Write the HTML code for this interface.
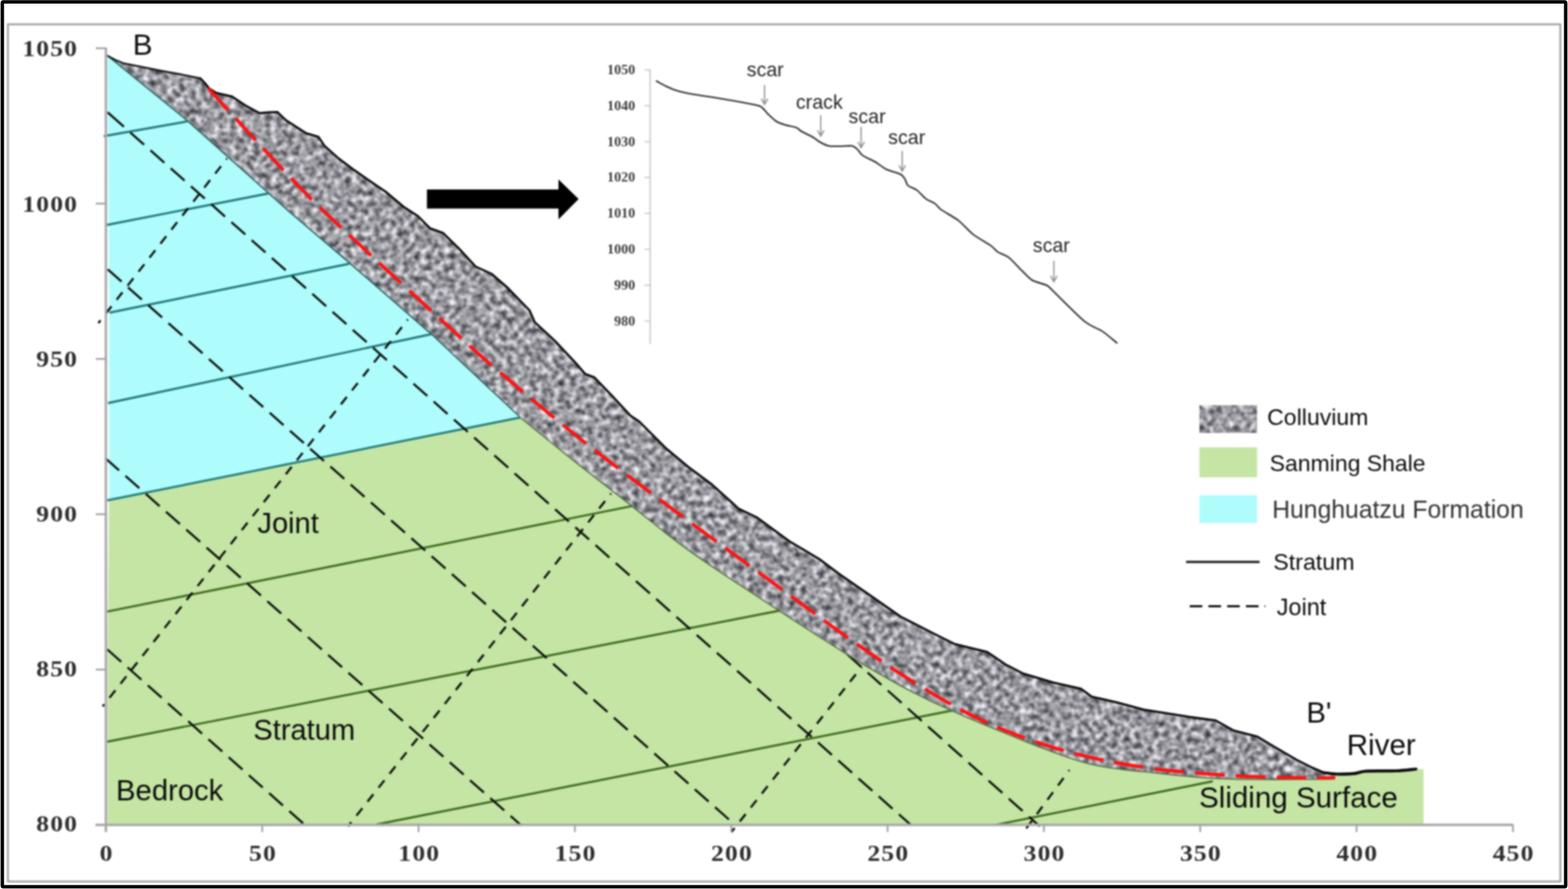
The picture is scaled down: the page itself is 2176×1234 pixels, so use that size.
<!DOCTYPE html>
<html lang="en"><head><meta charset="utf-8"><title>Cross section B-B'</title>
<style>
html,body{margin:0;padding:0;background:#fff;}
body{width:2176px;height:1234px;overflow:hidden;}
svg{display:block;}
.sans{font-family:"Liberation Sans",Arial,sans-serif;fill:#0c0c0c;}
.tick{font-family:"Liberation Serif","DejaVu Serif",serif;font-weight:bold;fill:#2e2e2e;font-size:31px;letter-spacing:1.35px;}
.itick{font-family:"Liberation Serif","DejaVu Serif",serif;font-weight:bold;fill:#3c3c3c;font-size:19.5px;}
.ann{font-family:"Liberation Sans",Arial,sans-serif;fill:#262626;font-size:27.2px;}
</style></head><body>
<svg width="2176" height="1234" viewBox="0 0 2176 1234" role="img" aria-label="Geological cross section B to B prime">
<defs>
<filter id="noise" filterUnits="userSpaceOnUse" x="140" y="60" width="1860" height="1040" color-interpolation-filters="sRGB">
<feTurbulence type="fractalNoise" baseFrequency="0.125" numOctaves="3" seed="7" result="t"/>
<feColorMatrix in="t" type="matrix" values="1.3 0 0 0 -0.045  1.3 0 0 0 -0.045  1.3 0 0 0 -0.02  0 0 0 0 1"/>
<feGaussianBlur stdDeviation="1.3"/>
</filter>
<filter id="soft2" filterUnits="userSpaceOnUse" x="0" y="0" width="2176" height="1234"><feGaussianBlur stdDeviation="0.4"/></filter>
<clipPath id="cc"><path d="M149.5,77.5 L160.0,83.0 L172.0,88.0 L200.0,93.5 L225.0,98.5 L250.0,103.0 L278.0,108.8 L284.0,115.0 L290.0,122.5 L300.0,129.0 L322.0,134.0 L340.0,146.0 L360.0,157.0 L372.0,156.0 L385.0,155.5 L397.0,167.0 L425.0,185.0 L442.0,190.0 L450.0,202.0 L470.0,220.0 L490.0,235.0 L510.0,249.0 L535.0,266.0 L560.0,287.0 L580.0,300.0 L597.0,317.0 L615.0,323.5 L637.0,345.0 L660.0,370.0 L682.0,380.0 L705.0,400.0 L735.0,431.0 L742.0,447.0 L770.0,473.0 L800.0,505.0 L812.0,519.0 L825.0,524.0 L850.0,550.0 L875.0,577.0 L887.0,585.0 L925.0,623.0 L955.0,648.0 L988.0,672.5 L1025.0,706.0 L1050.0,718.0 L1095.0,751.0 L1137.0,776.0 L1165.0,797.0 L1207.0,826.0 L1250.0,856.0 L1295.0,879.0 L1325.0,894.0 L1370.0,905.0 L1395.0,922.0 L1420.0,935.0 L1462.0,947.5 L1500.0,956.0 L1515.0,967.0 L1550.0,975.0 L1587.0,985.0 L1650.0,995.0 L1687.0,1000.0 L1712.0,1014.0 L1745.0,1022.5 L1770.0,1037.5 L1800.0,1055.0 L1822.0,1066.0 L1837.0,1072.5 L1855.0,1074.5 L1850.0,1081.5 L1836.0,1081.6 L1816.0,1081.8 L1793.0,1082.0 L1770.0,1082.1 L1750.0,1082.0 L1733.4,1081.8 L1718.2,1081.6 L1703.8,1081.3 L1689.6,1080.8 L1675.0,1080.0 L1659.6,1078.8 L1643.8,1077.3 L1628.2,1075.6 L1613.4,1074.0 L1600.0,1072.5 L1588.4,1071.3 L1578.2,1070.4 L1568.8,1069.4 L1559.6,1068.4 L1550.0,1067.0 L1540.4,1065.6 L1531.2,1064.1 L1521.8,1062.4 L1511.6,1060.2 L1500.0,1057.0 L1487.1,1053.0 L1473.2,1048.2 L1458.4,1042.8 L1442.3,1036.8 L1425.0,1030.0 L1405.4,1022.1 L1383.5,1013.1 L1360.9,1003.7 L1339.2,994.4 L1320.0,986.0 L1303.8,978.7 L1289.7,972.2 L1276.7,965.8 L1263.8,959.3 L1250.0,952.0 L1235.6,944.1 L1221.2,935.9 L1206.5,927.2 L1191.2,918.0 L1175.0,908.0 L1158.1,897.4 L1140.7,886.4 L1122.5,874.6 L1103.2,862.1 L1082.5,848.5 L1059.3,833.3 L1033.7,816.6 L1007.6,799.4 L982.4,782.5 L960.0,767.0 L940.9,753.0 L923.9,740.0 L908.2,727.5 L893.0,715.3 L877.5,703.0 L861.7,690.7 L846.2,678.7 L830.8,666.7 L815.5,654.7 L800.0,642.5 L783.2,629.1 L765.1,614.5 L747.6,600.3 L732.6,588.1 L722.0,579.5 L600.0,465.0 L485.0,365.0 L400.0,292.5 L260.0,167.5 L149.5,77.5Z"/></clipPath>
<clipPath id="sw"><rect x="1664.5" y="562.5" width="80" height="38.5"/></clipPath>
<filter id="soft" filterUnits="userSpaceOnUse" x="0" y="0" width="2176" height="1234" color-interpolation-filters="sRGB"><feGaussianBlur stdDeviation="1.0"/></filter>
</defs>
<rect x="0" y="0" width="2176" height="1234" fill="#ffffff"/>
<g id="figure" filter="url(#soft)">
<rect x="11" y="33.8" width="2154.4" height="1189.8" fill="none" stroke="#9c9c9c" stroke-width="2.5"/>
<g id="section">
<path d="M149.5,77.5 L260.0,167.5 L400.0,292.5 L485.0,365.0 L600.0,465.0 L722.0,579.5 L151.3,694.5 L151.3,400.0Z" fill="#affcfd"/>
<path d="M151.3,694.5 L722.0,579.5 L732.6,588.1 L747.6,600.3 L765.1,614.5 L783.2,629.1 L800.0,642.5 L815.5,654.7 L830.8,666.7 L846.2,678.7 L861.7,690.7 L877.5,703.0 L893.0,715.3 L908.2,727.5 L923.9,740.0 L940.9,753.0 L960.0,767.0 L982.4,782.5 L1007.6,799.4 L1033.7,816.6 L1059.3,833.3 L1082.5,848.5 L1103.2,862.1 L1122.5,874.6 L1140.7,886.4 L1158.1,897.4 L1175.0,908.0 L1191.2,918.0 L1206.5,927.2 L1221.2,935.9 L1235.6,944.1 L1250.0,952.0 L1263.8,959.3 L1276.7,965.8 L1289.7,972.2 L1303.8,978.7 L1320.0,986.0 L1339.2,994.4 L1360.9,1003.7 L1383.5,1013.1 L1405.4,1022.1 L1425.0,1030.0 L1442.3,1036.8 L1458.4,1042.8 L1473.2,1048.2 L1487.1,1053.0 L1500.0,1057.0 L1511.6,1060.2 L1521.8,1062.4 L1531.2,1064.1 L1540.4,1065.6 L1550.0,1067.0 L1559.6,1068.4 L1568.8,1069.4 L1578.2,1070.4 L1588.4,1071.3 L1600.0,1072.5 L1613.4,1074.0 L1628.2,1075.6 L1643.8,1077.3 L1659.6,1078.8 L1675.0,1080.0 L1689.6,1080.8 L1703.8,1081.3 L1718.2,1081.6 L1733.4,1081.8 L1750.0,1082.0 L1770.0,1082.1 L1793.0,1082.0 L1816.0,1081.8 L1836.0,1081.6 L1850.0,1081.5 L1855.0,1074.5 L1880.0,1073.7 L1895.0,1070.5 L1937.0,1070.0 L1965.0,1067.5 L1975.5,1067.5 L1975.5,1144.0 L149.3,1144.0 L149.3,900.0Z" fill="#c5e5a4"/>
<line x1="144.0" y1="189.0" x2="260.0" y2="168.5" stroke="#1f7676" stroke-width="2.9"/>
<line x1="147.0" y1="312.5" x2="372.5" y2="268.5" stroke="#1f7676" stroke-width="2.9"/>
<line x1="152.0" y1="434.0" x2="485.0" y2="366.0" stroke="#1f7676" stroke-width="2.9"/>
<line x1="150.0" y1="559.5" x2="598.0" y2="464.0" stroke="#1f7676" stroke-width="2.9"/>
<line x1="149.0" y1="694.5" x2="722.0" y2="579.5" stroke="#237c7a" stroke-width="3"/>
<line x1="149.0" y1="848.8" x2="877.5" y2="702.3" stroke="#3d6a1e" stroke-width="2.9"/>
<line x1="149.0" y1="1029.5" x2="1082.5" y2="847.5" stroke="#3d6a1e" stroke-width="2.9"/>
<line x1="522.0" y1="1144.5" x2="1322.5" y2="986.0" stroke="#3d6a1e" stroke-width="2.9"/>
<line x1="1383.5" y1="1144.7" x2="1683.0" y2="1084.5" stroke="#3d6a1e" stroke-width="2.9"/>
<line x1="152.7" y1="158.9" x2="1264.0" y2="1145.0" stroke="#0c100c" stroke-width="3.0" stroke-dasharray="25.7 11.83"/>
<line x1="149.5" y1="373.9" x2="1020.0" y2="1145.0" stroke="#0c100c" stroke-width="3.0" stroke-dasharray="25.7 11.83"/>
<line x1="146.0" y1="635.8" x2="722.5" y2="1145.0" stroke="#0c100c" stroke-width="3.0" stroke-dasharray="25.7 11.83"/>
<line x1="149.0" y1="901.5" x2="423.0" y2="1145.0" stroke="#0c100c" stroke-width="3.0" stroke-dasharray="25.7 11.83"/>
<line x1="1176.0" y1="908.5" x2="1443.0" y2="1147.0" stroke="#0c100c" stroke-width="3.0" stroke-dasharray="25.7 11.83"/>
<line x1="315.0" y1="220.0" x2="136.5" y2="448.5" stroke="#0c100c" stroke-width="3.0" stroke-dasharray="13.1 11.6" stroke-dashoffset="11.3"/>
<line x1="566.0" y1="443.5" x2="142.5" y2="980.5" stroke="#0c100c" stroke-width="3.0" stroke-dasharray="13.1 11.6" stroke-dashoffset="11.3"/>
<line x1="848.0" y1="685.0" x2="483.0" y2="1147.0" stroke="#0c100c" stroke-width="3.0" stroke-dasharray="13.1 11.6" stroke-dashoffset="11.3"/>
<line x1="1196.0" y1="925.5" x2="1015.0" y2="1155.0" stroke="#0c100c" stroke-width="3.0" stroke-dasharray="13.1 11.6" stroke-dashoffset="11.3"/>
<line x1="1484.0" y1="1069.0" x2="1419.0" y2="1157.0" stroke="#0c100c" stroke-width="3.0" stroke-dasharray="13.1 11.6" stroke-dashoffset="11.3"/>
<line x1="149.3" y1="155.9" x2="153.5" y2="159.6" stroke="#0c100c" stroke-width="3.0"/>
<g clip-path="url(#cc)"><rect x="140" y="60" width="1860" height="1040" fill="#999" filter="url(#noise)"/></g>
<path d="M149.5,77.5 L260.0,167.5 L400.0,292.5 L485.0,365.0 L600.0,465.0 L722.0,579.5" fill="none" stroke="#2c5c5c" stroke-width="1.7"/>
<path d="M722.0,579.5 L732.6,588.1 L747.6,600.3 L765.1,614.5 L783.2,629.1 L800.0,642.5 L815.5,654.7 L830.8,666.7 L846.2,678.7 L861.7,690.7 L877.5,703.0 L893.0,715.3 L908.2,727.5 L923.9,740.0 L940.9,753.0 L960.0,767.0 L982.4,782.5 L1007.6,799.4 L1033.7,816.6 L1059.3,833.3 L1082.5,848.5 L1103.2,862.1 L1122.5,874.6 L1140.7,886.4 L1158.1,897.4 L1175.0,908.0 L1191.2,918.0 L1206.5,927.2 L1221.2,935.9 L1235.6,944.1 L1250.0,952.0 L1263.8,959.3 L1276.7,965.8 L1289.7,972.2 L1303.8,978.7 L1320.0,986.0 L1339.2,994.4 L1360.9,1003.7 L1383.5,1013.1 L1405.4,1022.1 L1425.0,1030.0 L1442.3,1036.8 L1458.4,1042.8 L1473.2,1048.2 L1487.1,1053.0 L1500.0,1057.0 L1511.6,1060.2 L1521.8,1062.4 L1531.2,1064.1 L1540.4,1065.6 L1550.0,1067.0 L1559.6,1068.4 L1568.8,1069.4 L1578.2,1070.4 L1588.4,1071.3 L1600.0,1072.5 L1613.4,1074.0 L1628.2,1075.6 L1643.8,1077.3 L1659.6,1078.8 L1675.0,1080.0 L1689.6,1080.8 L1703.8,1081.3 L1718.2,1081.6 L1733.4,1081.8 L1750.0,1082.0 L1770.0,1082.1 L1793.0,1082.0 L1816.0,1081.8 L1836.0,1081.6 L1850.0,1081.5" fill="none" stroke="#4f6b45" stroke-width="1.6"/>
<path d="M149.5,77.5 L160.0,83.0 L172.0,88.0 L200.0,93.5 L225.0,98.5 L250.0,103.0 L278.0,108.8" fill="none" stroke="#101414" stroke-width="2.4" stroke-linejoin="round" stroke-linecap="round"/>
<path d="M278.0,108.8 L284.0,115.0 L290.0,122.5 L300.0,129.0 L322.0,134.0 L340.0,146.0 L360.0,157.0 L372.0,156.0 L385.0,155.5 L397.0,167.0 L425.0,185.0 L442.0,190.0 L450.0,202.0 L470.0,220.0 L490.0,235.0 L510.0,249.0 L535.0,266.0 L560.0,287.0 L580.0,300.0 L597.0,317.0 L615.0,323.5 L637.0,345.0 L660.0,370.0 L682.0,380.0 L705.0,400.0 L735.0,431.0 L742.0,447.0 L770.0,473.0 L800.0,505.0 L812.0,519.0 L825.0,524.0 L850.0,550.0 L875.0,577.0 L887.0,585.0 L925.0,623.0 L955.0,648.0 L988.0,672.5 L1025.0,706.0 L1050.0,718.0 L1095.0,751.0 L1137.0,776.0 L1165.0,797.0 L1207.0,826.0 L1250.0,856.0 L1295.0,879.0 L1325.0,894.0 L1370.0,905.0 L1395.0,922.0 L1420.0,935.0 L1462.0,947.5 L1500.0,956.0 L1515.0,967.0 L1550.0,975.0 L1587.0,985.0 L1650.0,995.0 L1687.0,1000.0 L1712.0,1014.0 L1745.0,1022.5 L1770.0,1037.5 L1800.0,1055.0 L1822.0,1066.0 L1837.0,1072.5 L1855.0,1074.5 L1880.0,1073.7 L1895.0,1070.5 L1937.0,1070.0 L1965.0,1067.5" fill="none" stroke="#0a0a0a" stroke-width="3.0" stroke-linejoin="round" stroke-linecap="round"/>
<path d="M1837.0,1072.5 C1840.0,1072.8 1847.8,1074.3 1855.0,1074.5 C1862.2,1074.7 1873.3,1074.4 1880.0,1073.7 C1886.7,1073.0 1885.5,1071.1 1895.0,1070.5 C1904.5,1069.9 1925.3,1070.5 1937.0,1070.0 C1948.7,1069.5 1960.3,1067.9 1965.0,1067.5" fill="none" stroke="#0a0a0a" stroke-width="4.2" stroke-linejoin="round" stroke-linecap="round"/>
<path d="M289.0,122.5 C298.3,132.8 325.8,163.2 345.0,184.0 C364.2,204.8 384.0,226.8 404.0,247.5 C424.0,268.2 430.8,275.8 465.0,308.0 C499.2,340.2 573.2,408.2 609.0,441.0 C644.8,473.8 648.2,477.7 680.0,505.0 C711.8,532.3 757.5,571.2 800.0,605.0 C842.5,638.8 885.0,670.7 935.0,708.0 C985.0,745.3 1060.0,799.7 1100.0,829.0 C1140.0,858.3 1147.5,864.7 1175.0,884.0 C1202.5,903.3 1233.3,925.5 1265.0,945.0 C1296.7,964.5 1330.8,985.2 1365.0,1001.0 C1399.2,1016.8 1434.2,1029.5 1470.0,1040.0 C1505.8,1050.5 1541.7,1058.0 1580.0,1064.0 C1618.3,1070.0 1663.3,1073.4 1700.0,1076.0 C1736.7,1078.6 1774.5,1078.9 1800.0,1079.5 C1825.5,1080.1 1844.2,1079.5 1853.0,1079.5" fill="none" stroke="#ff1212" stroke-width="4.7" stroke-dasharray="41.4 15.2"/>
</g>
<g id="axes" stroke="#a8a8ac" stroke-width="3.4" fill="none">
<line x1="147" y1="66" x2="147" y2="1155"/>
<line x1="132.5" y1="1145" x2="2100" y2="1145"/>
</g>
<g stroke="#a0a0a4" stroke-width="2.4">
<line x1="133" y1="67.0" x2="147" y2="67.0"/>
<line x1="133" y1="282.6" x2="147" y2="282.6"/>
<line x1="133" y1="498.2" x2="147" y2="498.2"/>
<line x1="133" y1="713.8" x2="147" y2="713.8"/>
<line x1="133" y1="929.4" x2="147" y2="929.4"/>
<line x1="363.9" y1="1145" x2="363.9" y2="1155"/>
<line x1="580.9" y1="1145" x2="580.9" y2="1155"/>
<line x1="797.8" y1="1145" x2="797.8" y2="1155"/>
<line x1="1014.8" y1="1145" x2="1014.8" y2="1155"/>
<line x1="1231.8" y1="1145" x2="1231.8" y2="1155"/>
<line x1="1448.7" y1="1145" x2="1448.7" y2="1155"/>
<line x1="1665.6" y1="1145" x2="1665.6" y2="1155"/>
<line x1="1882.6" y1="1145" x2="1882.6" y2="1155"/>
<line x1="2099.6" y1="1145" x2="2099.6" y2="1155"/>
</g>
<text class="tick" transform="translate(30.9,78.4) scale(1.150,1)">1050</text>
<text class="tick" transform="translate(30.9,293.6) scale(1.150,1)">1000</text>
<text class="tick" transform="translate(50.3,508.7) scale(1.150,1)">950</text>
<text class="tick" transform="translate(50.3,723.9) scale(1.150,1)">900</text>
<text class="tick" transform="translate(50.3,939.0) scale(1.150,1)">850</text>
<text class="tick" transform="translate(50.3,1154.2) scale(1.150,1)">800</text>
<text class="tick" transform="translate(138.3,1194.8) scale(1.150,1)">0</text>
<text class="tick" transform="translate(345.6,1194.8) scale(1.150,1)">50</text>
<text class="tick" transform="translate(552.8,1194.8) scale(1.150,1)">100</text>
<text class="tick" transform="translate(769.7,1194.8) scale(1.150,1)">150</text>
<text class="tick" transform="translate(986.7,1194.8) scale(1.150,1)">200</text>
<text class="tick" transform="translate(1203.7,1194.8) scale(1.150,1)">250</text>
<text class="tick" transform="translate(1420.6,1194.8) scale(1.150,1)">300</text>
<text class="tick" transform="translate(1637.5,1194.8) scale(1.150,1)">350</text>
<text class="tick" transform="translate(1854.5,1194.8) scale(1.150,1)">400</text>
<text class="tick" transform="translate(2071.5,1194.8) scale(1.150,1)">450</text>
<path d="M592.5,263 L775,263 L775,249 L803,276.3 L775,304.5 L775,289.5 L592.5,289.5 Z" fill="#000"/>
<g id="inset">
<line x1="902.3" y1="96.5" x2="902.3" y2="477.5" stroke="#c4c4c4" stroke-width="1.8"/>
<line x1="894.5" y1="97.0" x2="902.3" y2="97.0" stroke="#c4c4c4" stroke-width="1.6"/>
<text class="itick" text-anchor="end" x="881.5" y="103.0">1050</text>
<line x1="894.5" y1="146.8" x2="902.3" y2="146.8" stroke="#c4c4c4" stroke-width="1.6"/>
<text class="itick" text-anchor="end" x="881.5" y="152.8">1040</text>
<line x1="894.5" y1="196.6" x2="902.3" y2="196.6" stroke="#c4c4c4" stroke-width="1.6"/>
<text class="itick" text-anchor="end" x="881.5" y="202.6">1030</text>
<line x1="894.5" y1="246.4" x2="902.3" y2="246.4" stroke="#c4c4c4" stroke-width="1.6"/>
<text class="itick" text-anchor="end" x="881.5" y="252.4">1020</text>
<line x1="894.5" y1="296.2" x2="902.3" y2="296.2" stroke="#c4c4c4" stroke-width="1.6"/>
<text class="itick" text-anchor="end" x="881.5" y="302.2">1010</text>
<line x1="894.5" y1="346.0" x2="902.3" y2="346.0" stroke="#c4c4c4" stroke-width="1.6"/>
<text class="itick" text-anchor="end" x="881.5" y="352.0">1000</text>
<line x1="894.5" y1="395.8" x2="902.3" y2="395.8" stroke="#c4c4c4" stroke-width="1.6"/>
<text class="itick" text-anchor="end" x="881.5" y="401.8">990</text>
<line x1="894.5" y1="445.6" x2="902.3" y2="445.6" stroke="#c4c4c4" stroke-width="1.6"/>
<text class="itick" text-anchor="end" x="881.5" y="451.6">980</text>
<path d="M911.0,112.5 C912.9,113.5 921.1,118.2 925.0,120.0 C928.9,121.8 935.3,124.6 940.0,126.0 C944.7,127.4 952.7,129.2 960.0,130.5 C967.3,131.8 985.3,134.4 995.0,136.0 C1004.7,137.6 1024.5,141.0 1032.5,142.5 C1040.5,144.0 1050.7,145.5 1055.0,147.5 C1059.3,149.5 1062.0,154.7 1065.0,157.5 C1068.0,160.3 1074.2,166.4 1077.5,168.5 C1080.8,170.6 1086.3,172.4 1090.0,173.5 C1093.7,174.6 1102.0,175.8 1105.0,177.0 C1108.0,178.2 1109.5,180.8 1112.5,182.5 C1115.5,184.2 1124.2,188.1 1127.5,190.0 C1130.8,191.9 1134.5,195.3 1137.5,197.0 C1140.5,198.7 1146.3,201.7 1150.0,202.5 C1153.7,203.3 1160.7,203.0 1165.0,203.0 C1169.3,203.0 1179.2,201.9 1182.5,202.5 C1185.8,203.1 1188.0,205.7 1190.0,207.5 C1192.0,209.3 1194.2,213.7 1197.5,216.0 C1200.8,218.3 1210.7,222.5 1215.0,225.0 C1219.3,227.5 1225.3,232.7 1230.0,235.0 C1234.7,237.3 1246.5,240.1 1250.0,242.0 C1253.5,243.9 1254.7,246.9 1256.0,249.0 C1257.3,251.1 1257.8,255.5 1260.0,257.5 C1262.2,259.5 1269.2,261.5 1272.5,264.0 C1275.8,266.5 1281.7,273.5 1285.0,276.0 C1288.3,278.5 1294.7,280.5 1297.5,282.5 C1300.3,284.5 1301.7,287.9 1306.0,291.0 C1310.3,294.1 1324.1,301.5 1330.0,306.0 C1335.9,310.5 1344.0,320.3 1350.0,325.0 C1356.0,329.7 1370.3,337.7 1375.0,341.0 C1379.7,344.3 1381.7,347.8 1385.0,350.0 C1388.3,352.2 1395.7,354.2 1400.0,357.5 C1404.3,360.8 1413.2,370.8 1417.5,375.0 C1421.8,379.2 1427.8,386.2 1432.5,389.0 C1437.2,391.8 1448.5,393.9 1452.5,396.0 C1456.5,398.1 1455.5,398.3 1462.5,405.0 C1469.5,411.7 1496.0,438.7 1505.0,446.0 C1514.0,453.3 1524.0,456.0 1530.0,460.0 C1536.0,464.0 1547.3,473.9 1550.0,476.0" fill="none" stroke="#262626" stroke-width="2.1" stroke-linejoin="round" stroke-linecap="round"/>
<text class="ann" text-anchor="middle" x="1062.0" y="106.0">scar</text>
<path d="M1061.0,118.0 L1061.0,145.0 M1056.5,137.0 L1061.0,145.0 L1065.5,137.0" fill="none" stroke="#8e8e8e" stroke-width="1.7"/>
<text class="ann" text-anchor="middle" x="1137.0" y="151.0">crack</text>
<path d="M1139.0,160.0 L1139.0,189.0 M1134.5,181.0 L1139.0,189.0 L1143.5,181.0" fill="none" stroke="#8e8e8e" stroke-width="1.7"/>
<text class="ann" text-anchor="middle" x="1203.3" y="171.0">scar</text>
<path d="M1195.0,176.0 L1195.0,205.0 M1190.5,197.0 L1195.0,205.0 L1199.5,197.0" fill="none" stroke="#8e8e8e" stroke-width="1.7"/>
<text class="ann" text-anchor="middle" x="1258.3" y="200.0">scar</text>
<path d="M1252.0,209.5 L1252.0,237.5 M1247.5,229.5 L1252.0,237.5 L1256.5,229.5" fill="none" stroke="#8e8e8e" stroke-width="1.7"/>
<text class="ann" text-anchor="middle" x="1459.0" y="350.0">scar</text>
<path d="M1462.5,362.0 L1462.5,391.0 M1458.0,383.0 L1462.5,391.0 L1467.0,383.0" fill="none" stroke="#8e8e8e" stroke-width="1.7"/>
</g>
<g id="legend">
<g clip-path="url(#sw)"><rect x="140" y="60" width="1860" height="1040" fill="#999" filter="url(#noise)"/></g>
<rect x="1664.5" y="621" width="80" height="41.5" fill="#c5e5a4"/>
<rect x="1664.5" y="687.5" width="80" height="38.5" fill="#affcfd"/>
<line x1="1646" y1="780" x2="1748" y2="780" stroke="#111" stroke-width="3"/>
<line x1="1651" y1="841.5" x2="1756" y2="841.5" stroke="#111" stroke-width="3" stroke-dasharray="17.5 8.5"/>
<text class="sans" font-size="32" x="1758.5" y="590">Colluvium</text>
<text class="sans" font-size="31.9" x="1762" y="653.6">Sanming Shale</text>
<text class="sans" font-size="35" x="1765.5" y="718.6" textLength="349" lengthAdjust="spacingAndGlyphs" style="fill:#333">Hunghuatzu Formation</text>
<text class="sans" font-size="32.2" x="1767" y="791">Stratum</text>
<text class="sans" font-size="32.6" x="1771.8" y="854.4">Joint</text>
</g>
<g id="labels" class="sans">
<text font-size="41" x="184.3" y="76.2">B</text>
<text font-size="40.3" x="357.3" y="739.8">Joint</text>
<text font-size="40.4" x="351.5" y="1026.8">Stratum</text>
<text font-size="40.6" x="161" y="1110.5">Bedrock</text>
<text font-size="40.5" x="1813" y="1002.5">B'</text>
<text font-size="41" x="1869" y="1047.5">River</text>
<text font-size="41" x="1664" y="1120.6">Sliding Surface</text>
</g>
</g>
<rect x="3.2" y="2.7" width="2169.6" height="1228.1" rx="1.5" fill="none" stroke="#000" stroke-width="4.8" filter="url(#soft2)"/>
</svg>
</body></html>
